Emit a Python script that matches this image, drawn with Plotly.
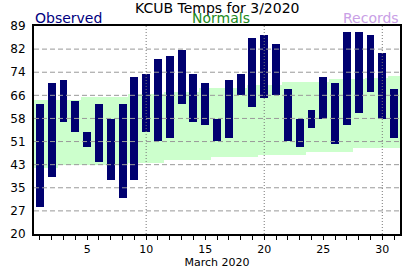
import plotly.graph_objects as go

days = list(range(1, 32))
obs_high = [63, 70, 71, 64, 54, 63, 58, 63, 72, 73, 78, 79, 81, 73, 70, 58, 71, 73, 85, 86,
            83, 68, 58, 61, 72, 70, 87, 87, 86, 80, 68]
obs_low = [29, 39, 57, 54, 49, 44, 38, 32, 38, 54, 51, 52, 63, 57, 56, 51, 52, 66, 62, 65,
           66, 51, 49, 55, 58, 50, 56, 60, 67, 58, 52]
norm_high = [64.5, 64.5, 64.5, 64.5, 65.3, 65.3, 65.3, 65.3, 66.6, 66.6, 66.6, 67.0, 67.0, 67.0,
             68.4, 68.4, 68.4, 68.4, 69.5, 69.5, 69.5, 70.5, 70.5, 70.5, 70.5, 71.4, 71.4, 71.4,
             71.9, 71.9, 72.4]
norm_low = [42.0, 42.0, 43.0, 43.0, 43.0, 43.0, 43.0, 43.0, 43.6, 43.6, 43.6, 44.6, 44.6, 44.6,
            44.6, 45.4, 45.4, 45.4, 45.4, 46.3, 46.3, 46.3, 46.3, 47.3, 47.3, 47.3, 47.3, 48.5,
            48.5, 48.5, 48.5]
y_labels = ["20", "27", "35", "43", "51", "58", "66", "74", "82", "89"]
x_labels = [5, 10, 15, 20, 25, 30]
x_grid = [10, 20, 30]
y_min, y_max = 20, 89
x_min, x_max = 0.5, 31.5

y_tickvals = [y_min + i * (y_max - y_min) / (len(y_labels) - 1) for i in range(len(y_labels))]

FONT = "DejaVu Sans"
fig = go.Figure()

fig.add_trace(go.Bar(
    x=days, y=[h - l for h, l in zip(norm_high, norm_low)], base=norm_low,
    width=1, marker=dict(color="#ccffcc", line=dict(width=0)),
    hoverinfo="skip", showlegend=False))

fig.add_trace(go.Bar(
    x=days, y=[h - l for h, l in zip(obs_high, obs_low)], base=obs_low,
    width=0.67, marker=dict(color="#000070", line=dict(width=0)),
    showlegend=False))

# grid lines drawn above the marks, as in the reference
for yv in y_tickvals[1:-1]:
    fig.add_trace(go.Scatter(x=[x_min, x_max], y=[yv, yv], mode="lines",
                             line=dict(color="#999999", width=1, dash="5px,3px"),
                             hoverinfo="skip", showlegend=False))
for xv in x_grid:
    fig.add_trace(go.Scatter(x=[xv, xv], y=[y_min, y_max], mode="lines",
                             line=dict(color="#777777", width=1, dash="1px,2px"),
                             hoverinfo="skip", showlegend=False))

fig.update_layout(
    width=412, height=276,
    margin=dict(l=30, r=10, t=26, b=30),
    paper_bgcolor="white", plot_bgcolor="white",
    barmode="overlay", bargap=0,
    font=dict(family=FONT, size=11, color="black"),
    xaxis=dict(
        range=[x_min, x_max], tickvals=x_labels, ticktext=[str(v) for v in x_labels],
        ticks="outside", ticklen=4, tickwidth=1, tickcolor="black",
        minor=dict(dtick=1, tick0=0, ticks="outside", ticklen=4, tickwidth=1, tickcolor="black", showgrid=False),
        showgrid=False, zeroline=False,
        showline=True, linecolor="black", linewidth=2, mirror=True,
        title=dict(text="March 2020", font=dict(size=11), standoff=2),
        tickfont=dict(size=11),
    ),
    yaxis=dict(
        range=[y_min, y_max], tickvals=y_tickvals, ticktext=y_labels,
        ticks="", showgrid=False,
        zeroline=False, showline=True, linecolor="black", linewidth=2, mirror=True,
        tickfont=dict(size=12), ticklabelstandoff=4,
    ),
    annotations=[
        dict(text="KCUB Temps for 3/2020", x=0.5, y=1, xref="paper", yref="paper",
             xanchor="center", yanchor="bottom", yshift=9, showarrow=False, borderpad=0,
             font=dict(size=14, color="black", family=FONT)),
        dict(text="Observed", x=0, y=1, xref="paper", yref="paper",
             xanchor="left", yanchor="bottom", yshift=-1, showarrow=False, borderpad=0,
             font=dict(size=14, color="#000080", family=FONT)),
        dict(text="Normals", x=0.51, y=1, xref="paper", yref="paper",
             xanchor="center", yanchor="bottom", yshift=-1, showarrow=False, borderpad=0,
             font=dict(size=14, color="#228B22", family=FONT)),
        dict(text="Records", x=1, y=1, xref="paper", yref="paper",
             xanchor="right", yanchor="bottom", yshift=-1, showarrow=False, borderpad=0,
             font=dict(size=14, color="#c9a0e6", family=FONT)),
    ],
)

fig.write_html("out.html")
